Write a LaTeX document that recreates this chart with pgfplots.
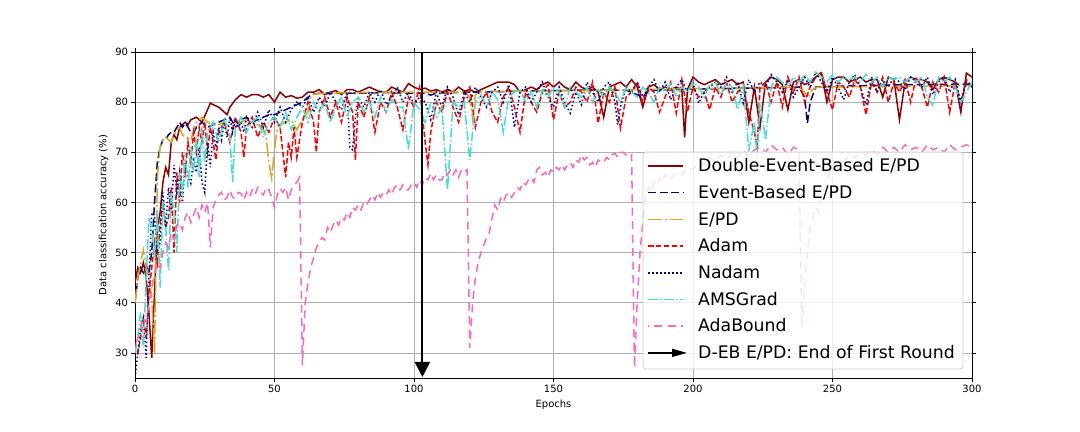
\documentclass[border=0pt]{standalone}
\usepackage{fontspec}
\setmainfont{DejaVu Sans}
\usepackage{pgfplots}
\pgfplotsset{compat=1.18}
\usetikzlibrary{arrows.meta}
\definecolor{cDEB}{RGB}{139,0,0}
\definecolor{cEB}{RGB}{0,0,128}
\definecolor{cEPD}{RGB}{218,165,32}
\definecolor{cAdam}{RGB}{255,0,0}
\definecolor{cNadam}{RGB}{0,0,139}
\definecolor{cAMS}{RGB}{64,224,208}
\definecolor{cAda}{RGB}{255,105,180}
\definecolor{cGrid}{RGB}{176,176,176}
\definecolor{cFrame}{RGB}{204,204,204}
\tikzset{
  sDEB/.style={draw=cDEB, solid, line width=1.5bp},
  sEB/.style={draw=cEB, dash pattern=on 8bp off 3.5bp, line width=1.5bp},
  sEPD/.style={draw=cEPD, dash pattern=on 14bp off 3bp on 2bp off 3bp, line width=1.5bp},
  sAdam/.style={draw=cAdam, dash pattern=on 5.5bp off 2.4bp, line width=1.5bp},
  sNadam/.style={draw=cNadam, dash pattern=on 1.5bp off 2.5bp, line width=1.5bp},
  sAMS/.style={draw=cAMS, dash pattern=on 9.6bp off 2.4bp on 1.5bp off 2.4bp, line width=1.5bp},
  sAda/.style={draw=cAda, dash pattern=on 8bp off 5.5bp, dash phase=-6bp, line width=1.5bp},
  legtext/.style={anchor=base west, inner sep=0pt, font=\fontsize{17.28bp}{20bp}\selectfont},
}
\begin{document}
\begin{tikzpicture}
\path[use as bounding box] (-135bp,-54bp) rectangle (945bp,378bp);
\begin{axis}[
  at={(0,0)}, anchor=south west,
  scale only axis, width=837bp, height=326bp,
  xmin=0, xmax=300, ymin=25, ymax=90,
  xtick={0,50,...,300}, ytick={30,40,...,90},
  grid=major, grid style={color=cGrid, line width=0.8bp},
  tick align=outside, major tick length=3.5bp,
  tick style={black, line width=0.8bp},
  axis line style={line width=0.8bp},
  ticklabel style={font=\fontsize{10bp}{12bp}\selectfont},
  /pgf/number format/assume math mode=true,
  xlabel={Epochs}, ylabel={Data classification accuracy (\%)},
  label style={font=\fontsize{10bp}{12bp}\selectfont},
  no markers,
]
\addplot[sDEB] coordinates {(0,44)(1,47)(2,46)(3,48)(4,45)(5,38)(6,29)(7,42)(8,55)(9,58)(10,64)(11,67)(12,65.5)(13,72)(14,73.5)(15,72.5)(16,75)(17,75.5)(18,76)(19,75.5)(20,76.5)(22,77)(24,76)(26,78.5)(27,79.8)(28,79.5)(30,79)(32,78)(33,77.5)(34,79)(36,80.5)(38,81.5)(40,81)(42,81.5)(44,81.5)(46,81)(48,81.5)(50,80)(52,82)(54,81)(56,81.3)(58,80.8)(60,81)(62,82)(64,82)(66,82.5)(68,81.5)(70,82)(72,82.3)(74,81.5)(76,82.5)(78,82.5)(80,82)(82,82.5)(84,83)(86,82.5)(88,82)(90,82)(92,83)(94,82.5)(96,82)(98,83.7)(100,83)(102,82.5)(104,82.8)(106,82.2)(108,82.5)(110,82)(112,82.5)(114,82)(116,83)(118,82.2)(120,82.5)(122,82)(124,82.5)(126,83)(128,83.5)(130,84)(132,84)(134,84)(136,83.5)(138,82)(140,82.5)(142,83)(144,82.5)(146,83.5)(148,84)(150,83)(152,84)(154,83)(156,82.5)(158,84)(160,83)(162,82.5)(164,83)(166,82)(168,77)(170,83)(172,83.5)(174,84)(176,83)(178,84.5)(180,83)(182,79)(184,83)(186,83.5)(188,82.5)(190,83)(192,82.5)(194,83)(196,82.5)(197,73)(198,82.5)(200,85)(202,84)(204,83.5)(206,84)(208,84.5)(210,83.5)(212,84)(214,84.5)(216,83.5)(218,84)(220,76)(222,83)(224,75)(226,84)(228,85)(230,84.5)(232,83.5)(234,78.5)(236,84)(238,84.5)(240,83.5)(242,84)(244,85)(246,85.8)(248,80)(250,84.5)(252,85)(254,85)(256,84)(258,84.5)(260,85)(262,84)(264,84.5)(266,84.5)(268,81)(270,85)(272,84.5)(274,76.5)(276,84)(278,85)(280,84.5)(282,84.5)(284,84)(286,82.5)(288,84.5)(290,85)(292,84.5)(294,84)(296,78)(298,85.8)(300,85)};
\addplot[sEB] coordinates {(0,40)(1,45)(2,47)(3,46)(4,47.5)(5,46)(6,50)(7,60)(8,68)(9,71)(10,72.5)(11,72.5)(12,73.5)(13,74)(14,74)(15,75)(16,76)(17,75)(18,75.8)(19,75)(20,74)(21,73.8)(22,75)(24,76)(26,75)(28,75.5)(30,76)(32,76.5)(34,77)(36,75)(38,76.5)(40,77)(42,76)(44,76.5)(46,77)(48,77.5)(50,77.5)(52,78)(54,78.5)(56,79)(58,79.5)(60,80)(62,81)(64,81.7)(70,81.8)(80,81.8)(90,81.9)(100,81.8)(104,81.8)(106,81.4)(108,81.8)(120,82)(140,82.2)(160,82.4)(176,82.4)(180,81.5)(182,81)(184,82.3)(200,82.6)(220,82.8)(238,83)(240,81)(241,75.8)(242,80)(244,83)(260,83.3)(280,83.5)(300,83.6)};
\addplot[sEPD] coordinates {(0,40)(1,45)(2,48)(3,50.5)(4,47)(5,45)(6,41)(7,30)(8,65)(9,71)(10,72.5)(11,73)(12,72.5)(13,72)(14,73.5)(15,74.5)(16,75)(17,73.5)(18,73)(19,72.8)(20,72.5)(22,76)(24,77)(26,76)(28,75.5)(30,75.5)(32,76)(34,75)(36,75.5)(38,76)(40,76.5)(42,76)(44,75.5)(46,74.5)(47,73)(48,68)(49,64.8)(50,70.5)(51,75)(52,75.5)(54,76)(56,76.5)(58,74.5)(60,76.5)(62,78)(63,81)(64,81.6)(70,81.8)(80,81.9)(90,82)(100,82)(110,82)(118,82)(120,81)(121,76.8)(122,81.5)(124,82.1)(140,82.2)(160,82.3)(180,82.5)(200,82.7)(220,82.8)(238,83)(240,82)(241,80.8)(243,82.6)(245,83)(260,83.1)(280,83.2)(300,83.3)};
\addplot[sAdam] coordinates {(0,32)(1,30)(2,33)(3,37)(4,33)(5,42)(6,47)(7,52)(8,48)(9,56)(10,60)(11,55)(12,57)(13,63)(14,50)(15,66)(16,60)(17,70)(18,66)(19,72)(20,68)(21,74)(22,70)(23,75)(24,72)(25,76)(26,70)(27,75)(28,72)(29,68.5)(30,74)(32,76)(34,72)(36,77)(38,74)(39,69)(40,75)(42,77)(44,73)(46,76)(48,74)(50,77)(52,75)(53,70)(54,65)(55,72)(56,69)(57,75)(58,69)(60,76)(62,80)(64,76)(65,70)(66,78)(68,81)(70,77)(72,80)(74,76)(76,81)(78,78)(79,68.5)(80,80)(82,77)(84,81)(86,74)(88,80)(90,78)(92,82)(94,79)(96,74.5)(98,81)(100,79)(102,83)(104,72)(105,67.5)(106,74)(108,80)(110,78)(112,82)(114,79)(116,76)(118,81)(120,83)(122,75)(124,80)(126,82)(128,78)(130,76)(132,81)(134,83)(136,79)(138,74)(140,82)(142,80)(144,78)(146,82)(148,83.5)(150,76.5)(152,82)(154,79)(156,80)(158,83)(160,82)(162,80)(164,84)(166,75.8)(168,82)(170,80)(172,83)(174,74.8)(176,81)(178,82)(180,84)(182,80)(184,83)(186,82)(188,78)(190,81)(192,84)(194,77.8)(196,84.5)(198,78)(200,83)(202,81)(204,82)(206,78.5)(208,83)(210,81)(212,84)(214,80)(216,82)(218,83)(220,78)(222,74)(223,71)(224,83)(226,84)(228,80)(230,84)(232,79)(234,85)(236,82)(238,85)(240,80)(242,83)(244,85)(246,86)(248,82)(250,78.5)(252,84)(254,83)(256,81)(258,84.5)(260,83)(262,77.5)(264,84)(266,82)(268,85)(270,80)(272,84)(274,82)(276,84.5)(278,80)(280,85)(282,83)(284,79)(286,84)(288,82)(290,85)(292,78)(294,84)(296,80)(298,84.5)(300,83)};
\addplot[sNadam] coordinates {(0,25)(1,30)(2,35)(3,37)(4,29)(5,45)(6,58)(7,57)(8,50)(9,52)(10,62)(11,55)(12,63)(13,58)(14,67.5)(15,62)(16,66)(17,60)(18,68)(19,65)(20,63.8)(21,69)(22,66)(23,71)(24,64)(25,62)(26,72)(27,67)(28,74)(29,71)(30,75)(31,72.5)(32,76)(33,73)(34,77)(35,74)(36,76.5)(37,75)(38,76)(39,74)(40,77)(42,75)(44,78)(46,75)(48,78.5)(50,76)(52,79)(54,76)(56,78.5)(58,80)(60,79)(62,81)(64,78)(66,81)(68,79)(70,82)(72,80)(74,78.5)(76,82)(77,71)(78,70.5)(79,77)(80,81)(82,79)(84,82)(86,80)(88,82.5)(90,79.5)(92,81)(94,83)(96,80)(98,82)(100,79.5)(102,81)(104,80)(106,76.5)(108,82)(110,79)(112,83)(114,81)(116,77.5)(118,82)(120,80)(122,83)(124,81)(126,79)(128,82)(130,83)(132,80)(134,83.5)(136,75)(138,82)(140,83)(142,80)(144,82)(146,84)(148,81)(150,79)(152,83)(154,80)(156,77.8)(158,82)(160,79.5)(162,84)(164,82)(166,80)(168,83)(170,84)(172,80)(173,75.5)(174,79)(176,83)(178,82)(180,84)(182,81)(184,83)(186,84.5)(188,82)(190,84)(192,80.5)(194,83)(196,84.5)(198,82)(200,84)(202,79.8)(204,82)(206,83)(208,84)(210,83)(212,85)(214,82)(216,84)(218,79.8)(220,84.5)(222,82)(224,84)(226,83)(228,85.5)(230,84)(232,82)(234,84.5)(236,81)(238,83)(240,85)(242,83)(244,86)(246,84)(248,82)(250,85)(252,83)(254,80.5)(256,84)(258,85.5)(260,83)(262,79.5)(264,85)(266,82)(268,84.5)(270,83)(272,85)(274,84)(276,82.5)(278,85)(280,84)(282,83)(284,85)(286,81.5)(288,84)(290,85)(292,82)(294,84.5)(296,80)(298,84)(300,83)};
\addplot[sAMS] coordinates {(0,30)(1,33)(2,38)(3,31)(4,45)(5,57)(6,55)(7,49)(8,58)(9,43)(10,60)(11,55)(12,46.5)(13,62)(14,58)(15,50)(16,66)(17,62)(18,70)(19,63)(20,71)(21,66)(22,73)(23,65)(24,75)(25,68)(26,74)(28,76)(30,72)(32,76.5)(34,73)(35,64)(36,75)(38,77)(40,74)(42,76)(44,77)(46,73)(48,76)(50,77)(52,75)(54,78)(56,74.5)(58,77)(60,79)(62,76)(64,80)(66,78)(68,80)(70,76)(72,79)(74,81)(76,77)(78,80)(80,81)(82,78)(84,80)(86,77)(88,81)(90,78)(92,80.5)(94,79)(96,79)(98,70.5)(100,80)(102,78.5)(104,76)(106,80)(108,77)(110,79)(112,62.5)(114,80)(116,79)(118,80)(120,68.5)(122,80)(124,81.5)(126,79)(128,82)(130,80.5)(132,74)(134,81)(136,82)(138,82.5)(140,80)(142,82)(144,79)(146,82.5)(148,81)(150,83)(152,82)(154,79)(156,83)(158,82)(160,81)(162,83)(164,80)(166,82.5)(168,81)(170,83)(172,82)(174,80)(176,83)(178,82)(180,81)(182,83)(184,82)(186,80)(188,83)(190,82)(192,84)(194,81)(196,83)(198,82)(200,84)(202,83)(204,81)(206,83.5)(208,84)(210,81.5)(212,84)(214,83)(216,78.5)(218,83)(220,70.5)(222,76)(223,69)(224,80)(226,72.5)(228,83)(230,85)(232,84)(234,83)(236,85)(238,84)(240,85.5)(242,84)(244,86)(246,85)(248,84)(250,85.5)(252,84)(254,85)(256,84.5)(258,85)(260,84)(262,85.5)(264,84)(266,85)(268,83)(270,85)(272,84.5)(274,85)(276,84)(278,85)(280,84)(282,85)(284,81)(286,79.2)(288,85)(290,84)(292,85)(294,83)(296,80)(298,82)(300,84)};
\addplot[sAda] coordinates {(0,31)(1,33)(2,35)(3,37)(4,36)(5,40)(6,43)(7,46)(8,48)(9,47)(10,50)(11,52)(12,51)(13,54)(14,52.5)(15,55.5)(16,56)(17,54.5)(18,57)(19,58)(20,56)(21,57.5)(22,59)(23,57)(24,59.5)(25,58)(26,60)(27,51)(28,59)(29,60.5)(30,61.5)(31,62)(32,60.5)(33,61)(34,62.5)(35,61)(36,60.8)(37,62)(38,61.8)(39,60.5)(40,62)(41,61)(42,62.5)(43,61.5)(44,63)(45,62)(46,61.5)(47,63)(48,62.5)(49,61)(50,59)(51,61.5)(52,62.8)(53,62)(54,63)(55,60.5)(56,62.5)(57,63.5)(58,64)(59,65)(60,27.5)(61,40)(62,44)(63,47)(64,49)(65,51)(66,52)(67,53)(68,52.5)(69,55)(70,54)(71,55.5)(72,56.5)(73,55.5)(74,57)(75,56.5)(76,58)(77,57)(78,59)(79,58.5)(80,59.5)(81,58.5)(82,60)(83,59.5)(84,60.5)(85,61.5)(86,60.5)(87,62)(88,61)(89,62)(90,61.5)(91,62.5)(92,61.5)(93,63)(94,63.5)(95,62.5)(96,63.5)(97,62.5)(98,62.5)(99,63.5)(100,64)(101,63)(102,64.5)(103,63.5)(104,65)(105,64.5)(106,65.8)(107,64.5)(108,65.5)(109,64.5)(110,64.5)(111,66)(112,65.5)(113,66.5)(114,65.5)(115,66.5)(116,65)(117,66.5)(118,66)(119,66.5)(120,31)(121,40)(122,45)(123,48)(124,50)(125,51.5)(126,53)(127,54)(128,57)(129,59.5)(130,58.5)(131,60.8)(132,60)(133,61.5)(134,62)(135,61)(136,62)(137,63)(138,62.5)(139,64)(140,63.5)(141,64.5)(142,65)(143,64)(144,66.5)(145,67)(146,65.5)(147,66)(148,65)(149,66.5)(150,66)(151,67)(152,66.5)(153,67.5)(154,66.5)(155,67.5)(156,68)(157,67)(158,68.5)(159,68)(160,69.5)(161,68.5)(162,69)(163,67.5)(164,68)(165,67)(166,68.5)(167,68)(168,68)(169,69)(170,68.5)(171,69.5)(172,69.8)(173,69)(174,70)(175,70)(176,69.5)(177,69)(178,69.5)(179,27)(180,40)(181,50)(182,56)(183,61)(184,63)(185,62)(186,64)(187,63.5)(188,65)(189,64)(190,65.5)(192,64.5)(194,66)(196,65.5)(198,67)(200,66.5)(202,68)(204,67.5)(206,69)(208,68)(210,69.5)(212,68.5)(214,70)(216,69)(218,70.5)(220,69)(222,70.5)(224,71)(226,70)(228,71.5)(230,70.5)(232,71)(234,69.5)(236,71)(238,70.5)(239,35)(240,44)(241,50)(242,55)(243,57)(244,59)(245,58)(246,61)(247,62.5)(248,64)(249,66)(250,67.5)(252,68.5)(254,68)(256,69.5)(258,69)(260,70)(262,69.5)(264,70.5)(266,69.5)(268,71)(270,70)(272,71)(274,70)(276,71.5)(278,70.5)(280,71)(282,70)(284,71.5)(286,70.5)(288,71)(290,70)(292,71.5)(294,70.5)(296,71)(298,71.5)(300,71)};
\addplot[black, solid, line width=2bp, -{Triangle[length=15bp,width=15bp]}]
  coordinates {(103,90) (103,25.2)};
\end{axis}
% legend (drawn by hand, in bp relative to the axis's lower left corner)
\fill[white, fill opacity=0.8, rounded corners=3bp] (508bp,9bp) rectangle (828bp,226bp);
\draw[cFrame, line width=0.8bp, rounded corners=3bp] (508bp,9bp) rectangle (828bp,226bp);
\draw[sDEB]   (513bp,212.0bp) -- (548bp,212.0bp);
\draw[sEB]    (513bp,185.3bp) -- (548bp,185.3bp);
\draw[sEPD]   (513bp,158.6bp) -- (548bp,158.6bp);
\draw[sAdam]  (513bp,131.9bp) -- (548bp,131.9bp);
\draw[sNadam] (513bp,105.2bp) -- (548bp,105.2bp);
\draw[sAMS]   (513bp,78.5bp) -- (548bp,78.5bp);
\draw[sAda]   (513bp,51.8bp) -- (548bp,51.8bp);
\draw[black, line width=1.5bp, -{Triangle[length=15bp,width=8bp]}] (513bp,25.1bp) -- (552bp,25.1bp);
\node[legtext] at (563bp,206.2bp) {Double-Event-Based E/PD};
\node[legtext] at (563bp,179.5bp) {Event-Based E/PD};
\node[legtext] at (563bp,152.8bp) {E/PD};
\node[legtext] at (563bp,126.1bp) {Adam};
\node[legtext] at (563bp,99.4bp) {Nadam};
\node[legtext] at (563bp,72.7bp) {AMSGrad};
\node[legtext] at (563bp,46.0bp) {AdaBound};
\node[legtext] at (563bp,19.3bp) {D-EB E/PD: End of First Round};
\end{tikzpicture}
\end{document}
